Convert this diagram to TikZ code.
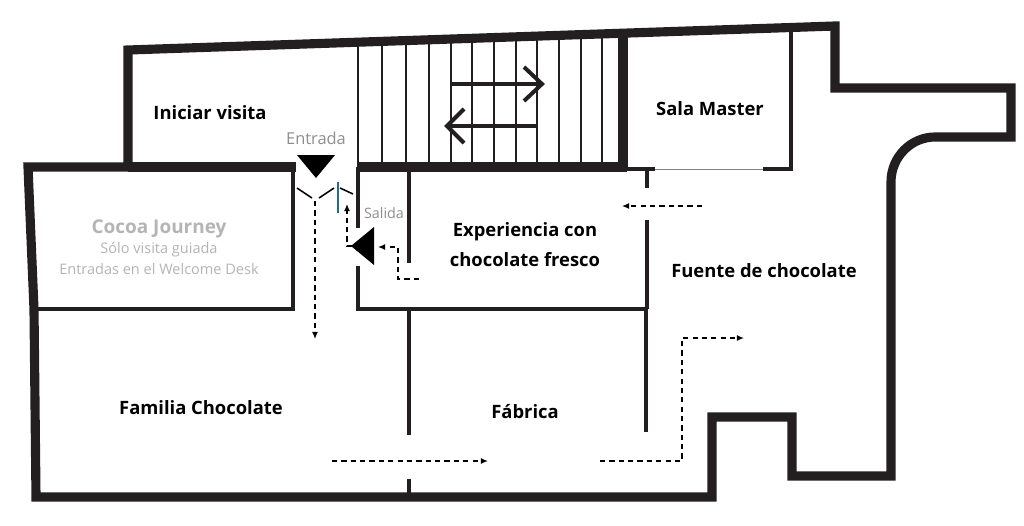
\documentclass[tikz,border=0pt]{standalone}
\usepackage{fontspec}
\setmainfont{Open Sans}
\usetikzlibrary{arrows.meta}
\definecolor{wallcol}{HTML}{231F20}
\definecolor{doorcol}{HTML}{1F6F8B}
\definecolor{labelgray}{HTML}{B4B4B4}
\definecolor{signgray}{HTML}{8E8E8E}

\begin{document}
\begin{tikzpicture}[
    x=0.03cm, y=-0.03cm,
    wall/.style={wallcol, line width=7.8pt, line join=miter},
    inner wall/.style={wallcol, line width=3.8pt},
    step line/.style={wallcol, line width=2pt},
    stair arrow/.style={wallcol, line width=3.4pt},
    door line/.style={black, line width=1.3pt},
    route/.style={black, line width=1.05pt, dash pattern=on 4.4pt off 3.6pt, -{Latex[length=6pt,width=5pt]}},
    sign/.style={black, fill=black},
    room/.style={font=\bfseries\fontsize{15.7}{25.5}\selectfont, align=center, inner sep=0pt},
    note/.style={labelgray, font=\fontsize{12.4}{16}\selectfont, align=center, inner sep=0pt},
    every node/.style={text=black}
    ]
        % Page size
        \useasboundingbox (0,0) rectangle (1024,526);
        % Stairs
        \foreach \x in {358,382,406,429,451,472,494,516,537,559,581,602}
            {\draw[step line] (\x,{50-0.034*(\x-128)}) -- (\x,167);}
        \draw[stair arrow] (451,84) -- (542,84);
        \draw[stair arrow] (524,67) -- (542,84) -- (524,101);
        \draw[stair arrow] (537,126) -- (447,126);
        \draw[stair arrow] (464,109) -- (447,126) -- (464,143);
        % Outer walls
        \draw[wall] (128,167) -- (128,50) -- (835,26) -- (835,88) -- (1011,88) -- (1011,137)
            -- (935,137) .. controls (911,137) and (891,157) .. (891,182)
            -- (891,476) -- (792,476) -- (792,417) -- (712,417) -- (712,497)
            -- (36,497) -- (34,309) -- (28,167) -- cycle;
        \draw[wall] (128,167) -- (296,167);
        \draw[wall] (358,167) -- (627,167);
        \draw[wall] (623,33) -- (623,170);
        % Inner walls
        \draw[inner wall] (34,309) -- (295,309);
        \draw[inner wall] (293,167) -- (293,311);
        \draw[inner wall] (358,167) -- (358,228);
        \draw[inner wall] (358,266) -- (358,311);
        \draw[inner wall] (356,309) -- (648,309);
        \draw[inner wall] (409,167) -- (409,263);
        \draw[inner wall] (409,309) -- (409,435);
        \draw[inner wall] (409,479) -- (409,497);
        \draw[inner wall] (647,169) -- (647,188);
        \draw[inner wall] (647,220) -- (647,309);
        \draw[wallcol, line width=4.2pt] (646,309) -- (646,432);
        % Sala Master
        \draw[inner wall] (791,28) -- (791,171);
        \draw[inner wall] (623,169) -- (655,169);
        \draw[inner wall] (763,169) -- (793,169);
        \draw[gray, line width=0.8pt] (655,169) -- (763,169);
        % Doors
        \draw[door line] (297,188) -- (312,198);
        \draw[door line] (319,198) -- (334,188);
        \draw[door line] (340,188) -- (353,194);
        \draw[doorcol, line width=1.6pt] (338,182) -- (338,213);
        % Signs
        \fill[sign] (297,155) -- (335,155) -- (316,178) -- cycle;
        \fill[sign] (351,246) -- (374,227) -- (374,265) -- cycle;
        % Routes
        \draw[route] (315,201) -- (315,339);
        \draw[route] (419,279) -- (398,279) -- (398,247) -- (378,247);
        \draw[route] (352,246) -- (347,246) -- (347,204);
        \draw[route] (702,206) -- (622,206);
        \draw[route] (332,461) -- (488,461);
        \draw[route] (600,461) -- (682,461) -- (682,338) -- (744,338);
        % Labels
        \node[room] (iniciar) at (210,113) {Iniciar visita};
        \node[room] (master) at (710,109) {Sala Master};
        \node[room] (experiencia) at (525,245) {Experiencia con\\chocolate fresco};
        \node[room] (fuente) at (764,271) {Fuente de chocolate};
        \node[room] (familia) at (201,408) {Familia Chocolate};
        \node[room] (fabrica) at (525,412) {Fábrica};
        \node[note, font=\bfseries\fontsize{16.2}{16}\selectfont, text=labelgray] (cocoa) at (159,229) {Cocoa Journey};
        \node[note, text=labelgray] (guiada) at (159,250) {Sólo visita guiada};
        \node[note, text=labelgray] (welcome) at (159,269) {Entradas en el Welcome Desk};
        \node[note, text=signgray, font=\fontsize{14}{16}\selectfont] (entrada) at (316,138) {Entrada};
        \node[note, text=signgray, font=\fontsize{12.2}{16}\selectfont] (salida) at (384,213) {Salida};
\end{tikzpicture}
\end{document}
